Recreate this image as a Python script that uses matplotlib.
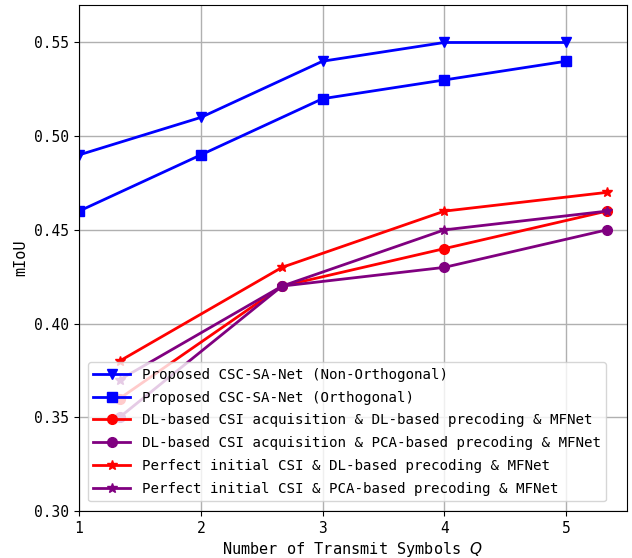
import numpy as np
import matplotlib
matplotlib.use('Agg')
import matplotlib.pyplot as plt

plt.rcParams['font.family'] = ['DejaVu Sans Mono', 'DejaVu Sans']
plt.rcParams['mathtext.fontset'] = 'dejavusans'

q_prop = [1, 2, 3, 4, 5]
q_base = [1.333, 2.667, 4.0, 5.333]

miou_nonorth = [0.49, 0.51, 0.54, 0.55, 0.55]
miou_orth = [0.46, 0.49, 0.52, 0.53, 0.54]
miou_dl_dl = [0.36, 0.42, 0.44, 0.46]
miou_dl_pca = [0.35, 0.42, 0.43, 0.45]
miou_perf_dl = [0.38, 0.43, 0.46, 0.47]
miou_perf_pca = [0.37, 0.42, 0.45, 0.46]

fig = plt.figure(figsize=(6.32, 5.58), dpi=100)
ax = fig.add_axes([79/632, 1-511/558, (627-79)/632, (511-5)/558])

ax.plot(q_prop, miou_nonorth, color='blue', marker='v', lw=2, ms=7,
        label='Proposed CSC-SA-Net (Non-Orthogonal)')
ax.plot(q_prop, miou_orth, color='blue', marker='s', lw=2, ms=7,
        label='Proposed CSC-SA-Net (Orthogonal)')
ax.plot(q_base, miou_dl_dl, color='red', marker='o', lw=2, ms=7,
        label='DL-based CSI acquisition & DL-based precoding & MFNet')
ax.plot(q_base, miou_dl_pca, color='purple', marker='o', lw=2, ms=7,
        label='DL-based CSI acquisition & PCA-based precoding & MFNet')
ax.plot(q_base, miou_perf_dl, color='red', marker='*', lw=2, ms=7,
        label='Perfect initial CSI & DL-based precoding & MFNet')
ax.plot(q_base, miou_perf_pca, color='purple', marker='*', lw=2, ms=7,
        label='Perfect initial CSI & PCA-based precoding & MFNet')

ax.set_xlim(1, 5.5)
ax.set_ylim(0.30, 0.57)
ax.set_xticks([1, 2, 3, 4, 5])
ax.set_yticks([0.30, 0.35, 0.40, 0.45, 0.50, 0.55])
ax.set_yticklabels(['0.30', '0.35', '0.40', '0.45', '0.50', '0.55'])
ax.tick_params(labelsize=10.5)
ax.grid(True, color='#b0b0b0', lw=1)
ax.set_xlabel('Number of Transmit Symbols $Q$', fontsize=11, labelpad=3)
ax.set_ylabel('mIoU', fontsize=11)
ax.legend(loc='lower left', fontsize=10.2, handlelength=2.6,
          bbox_to_anchor=(0.003, 0.005), labelspacing=0.62)

fig.savefig('out.png', dpi=100)
